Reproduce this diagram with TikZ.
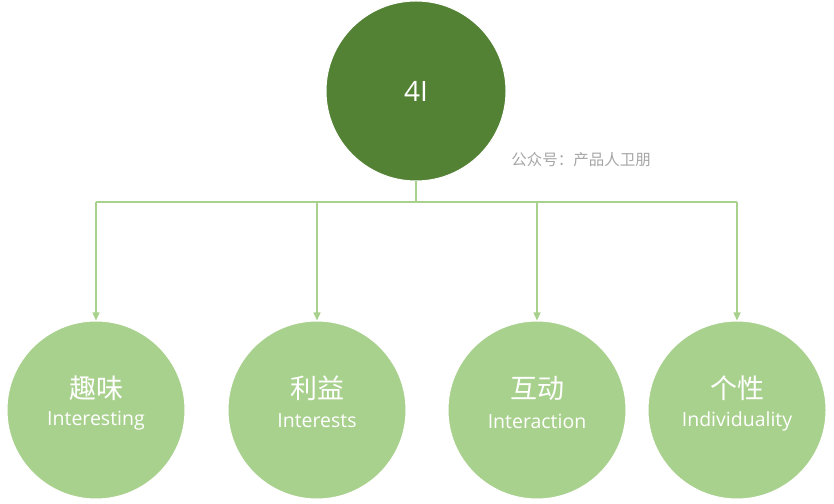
\documentclass[tikz,border=0pt]{standalone}
\usepackage{fontspec}
\setmainfont{Open Sans}
\newfontfamily\cjk{Noto Sans CJK SC}
\usetikzlibrary{arrows.meta}
\definecolor{dg}{HTML}{548235}
\definecolor{lg}{HTML}{A9D18E}
\definecolor{ln}{HTML}{A9D18E}
\begin{document}
\begin{tikzpicture}[x=1pt,y=1pt,
  top/.style={circle,fill=dg,draw=white,line width=1pt,minimum size=180pt,inner sep=0pt,text=white,font=\fontsize{28}{32}\selectfont},
  leaf/.style={circle,fill=lg,draw=white,line width=1pt,minimum size=178pt,inner sep=0pt},
  cn/.style={text=white,font=\cjk\fontsize{27}{30}\selectfont,inner sep=0pt},
  en/.style={text=white,font=\fontsize{19.5}{22}\selectfont,inner sep=0pt},
  conn/.style={draw=ln,line width=1.5pt},
  arr/.style={conn,-{Triangle[width=7pt,length=8pt]}}]
\useasboundingbox (0,0) rectangle (834,503);
\node[top] (t) at (416,412) {4I};
\node[text=gray!70,font=\cjk\fontsize{15.5}{18}\selectfont] (w) at (581,343) {公众号：产品人卫朋};
\foreach \n/\x/\c/\e in {a/96/趣味/Interesting,b/317/利益/Interests,c/537/互动/Interaction,d/737/个性/Individuality}{
  \node[leaf] (\n) at (\x,93) {};
  \node[cn] (\n c) at (\x,115) {\c};
  \node[en] (\n e) at (\x,82) {\e};
  \coordinate (\n j) at (\x,301);
}
\draw[conn] (t.south) -- (416,301);
\draw[conn] (aj) -- (dj);
\foreach \n in {a,b,c,d}{\draw[arr] (\n j) -- (\n.north);}
\end{tikzpicture}
\end{document}
